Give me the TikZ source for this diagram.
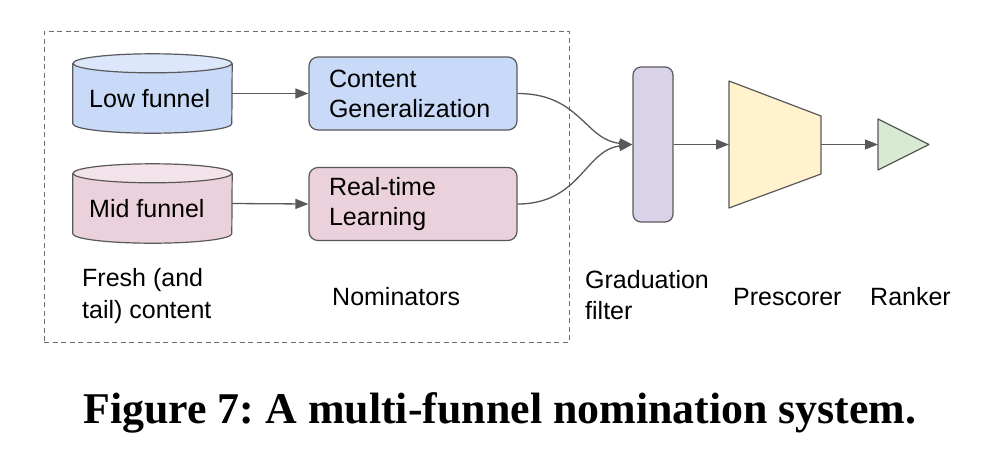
\documentclass[tikz,border=0pt]{standalone}
\usepackage{fontspec}
\setmainfont{Liberation Sans}
\newfontfamily\capfont{Liberation Serif}
\usetikzlibrary{arrows.meta}
\definecolor{stroke}{HTML}{595959}
\definecolor{bluefill}{HTML}{C9DAF8}
\definecolor{bluetop}{HTML}{DCE7FB}
\definecolor{pinkfill}{HTML}{EAD1DC}
\definecolor{pinktop}{HTML}{F3E3EA}
\definecolor{lavfill}{HTML}{D9D2E9}
\definecolor{yelfill}{HTML}{FFF2CC}
\definecolor{grnfill}{HTML}{D9EAD3}
\definecolor{dashcol}{HTML}{6E6E6E}
\tikzset{
  lbl/.style={font=\fontsize{25}{31}\selectfont, text=black, inner sep=0pt, anchor=west, align=left},
  nombox/.style={draw=stroke, line width=1.2pt, rounded corners=9pt, minimum width=208pt, minimum height=73pt,
     text width=168pt, inner xsep=20pt, inner ysep=0pt, align=left, font=\fontsize{25}{30}\selectfont},
  cylbody/.style={minimum width=159pt, minimum height=79pt, inner sep=0pt, font=\fontsize{25}{30}\selectfont},
  conn/.style={draw=stroke, line width=1.3pt, -{Triangle[length=13pt,width=10pt]}},
}
\begin{document}
\begin{tikzpicture}[x=1pt,y=-1pt]
\useasboundingbox (0,0) rectangle (1000,456);
\fill[white] (0,0) rectangle (1000,456);
% dashed frame
\node[draw=dashcol, dash pattern=on 5pt off 3.5pt, line width=1pt, minimum width=525pt, minimum height=311pt, inner sep=0pt] (frame) at (306.5,186.5) {};
% cylinders
\foreach \nm/\cy/\fc/\tc in {low/93.5/bluefill/bluetop, mid/203.5/pinkfill/pinktop}{
  \node[cylbody] (\nm) at (152.5,\cy) {};
  \draw[draw=stroke, line width=1.2pt, fill=\fc]
    ([yshift=-9.5pt]\nm.north west) -- ([yshift=9.5pt]\nm.south west)
    arc[start angle=180, end angle=360, x radius=79.5pt, y radius=9.5pt]
    -- ([yshift=-9.5pt]\nm.north east);
  \draw[draw=stroke, line width=1.2pt, fill=\tc] ([yshift=-9.5pt]\nm.north) ellipse[x radius=79.5pt, y radius=9.5pt];
}
\node[lbl, anchor=west] (lowt) at (89,99) {Low funnel};
\node[lbl, anchor=west] (midt) at (89,209) {Mid funnel};
% nominators
\node[nombox, fill=bluefill] (cg) at (413,93.5) {Content\\Generalization};
\node[nombox, fill=pinkfill] (rl) at (413,204) {Real-time\\Learning};
% graduation filter
\node[draw=stroke, line width=1.2pt, fill=lavfill, rounded corners=8pt, minimum width=40pt, minimum height=155pt, inner sep=0pt] (gf) at (653,144.5) {};
% prescorer
\coordinate (ps1) at (729,81);
\coordinate (ps2) at (821,116);
\coordinate (ps3) at (821,174);
\coordinate (ps4) at (729,208);
\draw[draw=stroke, line width=1.2pt, fill=yelfill, line join=round] (ps1) -- (ps2) -- (ps3) -- (ps4) -- cycle;
\coordinate (psin) at (729,144.5);
\coordinate (psout) at (821,144.5);
% ranker
\coordinate (rk1) at (878,119);
\coordinate (rk2) at (929,144.5);
\coordinate (rk3) at (878,170);
\draw[draw=stroke, line width=1.2pt, fill=grnfill, line join=round] (rk1) -- (rk2) -- (rk3) -- cycle;
\coordinate (rkin) at (878,144.5);
% connectors
\draw[conn] (low.east) -- (cg.west);
\draw[conn] (mid.east) -- (rl.west);
\draw[conn] (cg.east) .. controls (580,93.5) and (585,140) .. (gf.west);
\draw[conn] (rl.east) .. controls (580,204) and (585,150) .. (gf.west);
\draw[conn] (gf.east) -- (psin);
\draw[conn] (psout) -- (rkin);
% labels
\node[lbl] (fresh) at (82,296) {Fresh (and\\[1pt]tail) content};
\node[lbl] (nomt) at (332,297) {Nominators};
\node[lbl] (gft) at (585,295) {Graduation\\filter};
\node[lbl] (pst) at (733,297) {Prescorer};
\node[lbl] (rkt) at (870,297) {Ranker};
% caption
\node[anchor=base, inner sep=0pt] (cap) at (500,423) {\resizebox{833pt}{!}{\frenchspacing\capfont\bfseries\fontsize{36}{40}\selectfont Figure 7: A multi-funnel nomination system.}};
\end{tikzpicture}
\end{document}
